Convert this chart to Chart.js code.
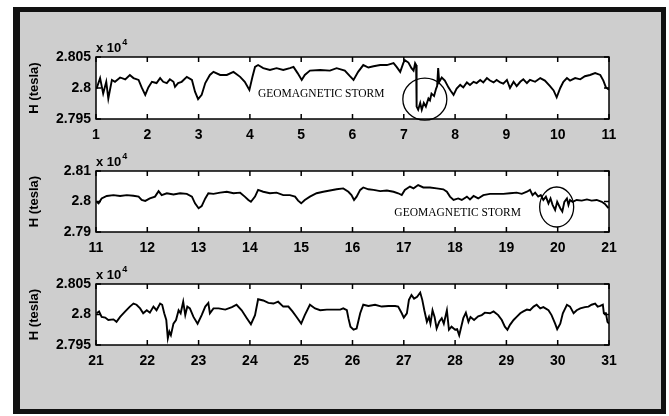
<!DOCTYPE html>
<html>
<head>
<meta charset="utf-8">
<script src="https://cdn.jsdelivr.net/npm/chart.js@4/dist/chart.umd.min.js"></script>
<style>
  html, body { margin: 0; padding: 0; background: #fff; }
  #page { position: relative; width: 669px; height: 416px; overflow: hidden; background: #fff; }
  #frame { position: absolute; left: 13px; top: 7px; width: 641px; height: 397px;
           border: 5px solid #111; border-left-width: 7px; background: #cecece; }
  canvas { position: absolute; left: 0; }
</style>
</head>
<body>
<div id="page">
  <div id="frame"></div>
  <canvas id="p1" width="669" height="120" style="top:30px"></canvas>
  <canvas id="p2" width="669" height="119" style="top:144px"></canvas>
  <canvas id="p3" width="669" height="119" style="top:257px"></canvas>
</div>
<script>
// valores (dia del mes, H en nT)
const days1 = [1.01,1.08,1.14,1.20,1.24,1.31,1.37,1.47,1.57,1.66,1.73,1.83,1.89,1.96,2.02,2.09,2.18,2.25,2.31,2.38,2.44,2.51,2.54,2.60,2.67,2.77,2.87,2.93,2.99,3.06,3.13,3.22,3.29,3.42,3.55,3.68,3.81,3.90,3.99,4.05,4.10,4.16,4.26,4.39,4.52,4.65,4.78,4.85,4.93,5.01,5.07,5.17,5.37,5.56,
  5.69,5.85,5.95,6.02,6.11,6.21,6.31,6.41,6.54,6.67,6.80,6.86,6.93,6.99,7.02,7.09,7.15,7.19,7.22,7.24,7.25,7.28,7.32,7.35,7.39,7.43,7.48,7.51,7.54,7.59,7.63,7.65,7.67,7.69,7.74,7.80,7.87,7.91,7.97,
  8.03,8.10,8.16,8.23,8.29,8.36,8.42,8.49,8.55,8.62,8.68,8.75,8.81,8.88,8.94,9.01,9.07,9.14,9.20,9.27,9.33,9.40,9.46,9.56,9.66,9.75,9.85,9.92,9.98,10.05,10.11,10.18,10.24,10.34,10.44,10.53,10.63,10.73,10.83,10.89,10.94,11.0];
const h1 = [27999,28016,27991,28010,27983,28013,28010,28017,28014,28021,28016,28013,28001,27989,28001,28010,28008,28016,28010,28008,28014,28010,28002,28008,28010,28018,28013,27994,27982,27989,28008,28021,28026,28021,28021,28026,28018,28010,27997,28018,28034,28037,28032,28029,28032,28029,28032,28034,28024,28013,28021,28028,28029,28028,
  28032,28028,28019,28013,28026,28037,28033,28035,28037,28037,28040,28034,28026,28040,28045,28041,28032,28028,28040,28037,27970,27965,27976,27965,27976,27970,27983,27980,27991,27987,27999,28003,28032,28010,28017,28012,28001,27996,27989,
  27999,28005,28001,28009,28005,28010,28008,28013,28009,28016,28012,28009,28013,28009,28007,28013,28000,28010,28003,28010,28014,28008,28013,28010,28016,28012,28003,27996,27985,28000,28010,28016,28012,28016,28014,28019,28021,28024,28021,28012,28001,27997];

const days2 = [11.01,11.05,11.11,11.21,11.34,11.47,11.60,11.73,11.83,11.89,11.96,12.05,12.15,12.22,12.28,12.38,12.51,12.64,12.77,12.87,12.93,13.00,13.06,13.13,13.19,13.29,13.42,13.55,13.68,13.81,13.90,13.97,14.02,14.10,14.16,14.26,14.39,14.52,14.65,14.78,14.88,14.94,15.00,15.07,15.17,15.30,15.43,15.56,15.69,
  15.82,15.92,15.98,16.03,16.08,16.15,16.21,16.31,16.41,16.54,16.67,16.80,16.89,16.96,17.02,17.12,17.19,17.28,17.38,17.51,17.64,17.77,17.84,17.90,17.97,18.06,18.13,18.23,18.29,18.36,18.45,18.55,18.68,18.81,18.94,19.07,19.20,19.30,19.40,19.46,19.51,19.56,19.62,19.67,19.72,19.77,19.82,19.86,19.90,19.95,19.99,20.05,20.09,20.13,20.18,20.21,20.24,20.29,20.37,20.47,20.57,20.66,20.76,20.86,20.92,20.99];
const h2 = [27999,27994,28010,28018,28021,28018,28021,28019,28016,28005,28002,28010,28016,28034,28021,28027,28023,28027,28025,28016,27994,27978,27985,28010,28027,28025,28029,28032,28027,28029,28016,28005,27999,28016,28038,28032,28027,28029,28021,28021,28016,28003,27994,28005,28016,28027,28032,28036,28040,
  28043,28032,28021,28005,28016,28038,28046,28040,28038,28034,28036,28032,28027,28021,28038,28049,28043,28054,28046,28046,28043,28040,28032,28016,28005,28010,28005,28016,28007,28018,28010,28021,28025,28025,28025,28027,28029,28025,28032,28038,28021,28029,28016,28021,28005,28016,27994,28010,27989,27972,27999,27978,27967,27999,28010,27989,28005,27999,28005,28003,28007,28003,28005,27999,27992,27978];

const days3 = [21.01,21.06,21.11,21.18,21.24,21.34,21.40,21.47,21.57,21.66,21.73,21.79,21.86,21.92,21.99,22.05,22.12,22.18,22.25,22.29,22.33,22.37,22.40,22.43,22.46,22.51,22.56,22.61,22.65,22.70,22.74,22.78,22.83,22.90,22.98,23.06,23.13,23.19,23.22,23.29,23.39,23.52,23.65,23.74,23.84,23.94,24.02,24.10,24.16,24.26,24.36,24.46,24.55,24.65,24.75,24.83,24.91,25.00,25.07,25.17,25.27,25.37,25.50,25.63,25.76,
  25.82,25.89,25.92,25.96,26.02,26.08,26.15,26.21,26.31,26.44,26.57,26.70,26.83,26.89,26.96,27.00,27.06,27.10,27.15,27.20,27.26,27.32,27.36,27.40,27.45,27.49,27.52,27.56,27.60,27.64,27.69,27.74,27.78,27.84,27.88,27.93,28.00,28.04,28.08,28.12,28.16,28.21,28.26,28.30,28.37,28.45,28.52,28.58,28.68,28.75,28.84,28.91,28.97,29.02,29.07,29.14,29.20,29.27,29.33,29.40,29.46,29.53,29.59,29.66,29.72,29.82,29.88,29.95,29.99,30.05,30.10,30.18,30.24,30.31,30.37,30.44,30.53,30.60,30.66,30.73,30.78,30.83,30.88,30.90,30.94,30.97,31.00];
const h3 = [28002,28005,27996,27995,27991,27992,27988,27996,28005,28013,28018,28016,28010,28002,28007,28003,28013,28007,28018,28016,28002,27991,27961,27972,27966,27985,27991,28007,28002,28021,27999,28013,28010,27996,27985,27999,28013,28019,28002,28010,28010,28008,28012,28016,28007,27994,27984,27999,28025,28023,28019,28018,28021,28013,28013,28005,27996,27985,27999,28016,28010,28007,28008,28008,28008,
  28010,28007,27994,27980,27975,27977,28002,28016,28014,28016,28013,28014,28014,28013,28002,27995,28002,28024,28032,28026,28029,28036,28024,28007,27988,27996,27985,28007,27996,27977,27988,27994,27985,28007,27975,27980,27975,27976,27966,27980,27994,28003,27988,27996,27991,27997,27999,28003,28002,28005,27999,27991,27980,27975,27983,27991,27996,28002,28005,28008,28007,28013,28016,28010,28012,28007,27999,27985,27976,27985,28002,28016,28013,28002,28007,28010,28012,28013,28016,28018,28013,28014,28016,28002,28002,27988,27985];

const yTicks1 = ['2.795', '2.8', '2.805'];
const yTicks2 = ['2.79', '2.8', '2.81'];
const yTicks3 = ['2.795', '2.8', '2.805'];
const nota = 'GEOMAGNETIC STORM';

const fuenteEje = { family: "'Liberation Sans', Arial, sans-serif", size: 14, weight: 'bold' };

// caja, marcas hacia adentro, "x 10^4" y anotaciones
const cajaPlugin = {
  id: 'caja',
  beforeDatasetsDraw(chart) {
    const { ctx, chartArea: a } = chart;
    ctx.save();
    ctx.fillStyle = '#fff';
    ctx.fillRect(a.left, a.top, a.width, a.height);
    ctx.restore();
  },
  afterDatasetsDraw(chart, args, opts) {
    const { ctx, chartArea: a, scales: { x, y } } = chart;
    ctx.save();
    ctx.strokeStyle = '#000';
    ctx.lineWidth = 1.5;
    ctx.strokeRect(a.left, a.top, a.width, a.height);
    ctx.beginPath();
    x.ticks.forEach(t => {
      const px = x.getPixelForValue(t.value);
      ctx.moveTo(px, a.bottom); ctx.lineTo(px, a.bottom - 5);
      ctx.moveTo(px, a.top); ctx.lineTo(px, a.top + 5);
    });
    y.ticks.forEach(t => {
      const py = y.getPixelForValue(t.value);
      ctx.moveTo(a.left, py); ctx.lineTo(a.left + 5, py);
      ctx.moveTo(a.right, py); ctx.lineTo(a.right - 5, py);
    });
    ctx.stroke();

    // x 10^4
    ctx.fillStyle = '#000';
    ctx.textBaseline = 'alphabetic';
    ctx.textAlign = 'left';
    ctx.font = "bold 13px 'Liberation Sans', Arial, sans-serif";
    ctx.fillText('x 10', a.left, a.top - 5);
    const w = ctx.measureText('x 10').width;
    ctx.font = "bold 9px 'Liberation Sans', Arial, sans-serif";
    ctx.fillText('4', a.left + w + 1, a.top - 12);

    // anotaciones
    (opts.notas || []).forEach(n => {
      ctx.font = "11.5px 'Liberation Serif', 'Times New Roman', serif";
      ctx.textAlign = 'center';
      ctx.textBaseline = 'middle';
      ctx.fillText(n.texto, x.getPixelForValue(n.tx), y.getPixelForValue(n.ty));
      ctx.lineWidth = 1.3;
      ctx.beginPath();
      ctx.ellipse(x.getPixelForValue(n.cx), y.getPixelForValue(n.cy), n.rx, n.ry, 0, 0, Math.PI * 2);
      ctx.stroke();
    });
    ctx.restore();
  }
};

function crearPanel(id, dias, valores, xmin, xmax, ymin, ymax, etiquetasY, notas) {
  new Chart(document.getElementById(id), {
    type: 'line',
    data: {
      datasets: [{
        data: dias.map((d, i) => ({ x: d, y: valores[i] })),
        borderColor: '#000',
        borderWidth: 1.9,
        pointRadius: 0,
        tension: 0,
        fill: false
      }]
    },
    options: {
      responsive: false,
      animation: false,
      layout: { padding: { left: 0, right: 60, top: 27, bottom: 0 } },
      plugins: { legend: { display: false }, tooltip: { enabled: false }, caja: { notas: notas } },
      scales: {
        x: {
          type: 'linear', min: xmin, max: xmax,
          grid: { display: false, drawTicks: false },
          border: { display: false },
          ticks: { stepSize: 1, color: '#000', font: fuenteEje, padding: 8, maxRotation: 0, autoSkip: false },
          afterFit(s) { s.height = 31; }
        },
        y: {
          min: ymin, max: ymax,
          grid: { display: false, drawTicks: false },
          border: { display: false },
          ticks: {
            stepSize: (ymax - ymin) / 2, color: '#000', font: fuenteEje, padding: 5,
            callback: (v, i) => etiquetasY[i]
          },
          title: {
            display: true, text: 'H (tesla)', color: '#000',
            font: { family: "'Liberation Sans', Arial, sans-serif", size: 13, weight: 'bold' },
            padding: { top: 27, bottom: 0 }
          },
          afterFit(s) { s.width = 96; }
        }
      }
    },
    plugins: [cajaPlugin]
  });
}

crearPanel('p1', days1, h1, 1, 11, 27950, 28050, yTicks1,
  [{ texto: nota, tx: 5.39, ty: 27990, cx: 7.41, cy: 27982, rx: 22, ry: 21 }]);
crearPanel('p2', days2, h2, 11, 21, 27900, 28100, yTicks2,
  [{ texto: nota, tx: 18.05, ty: 27962, cx: 19.98, cy: 27982, rx: 17, ry: 20 }]);
crearPanel('p3', days3, h3, 21, 31, 27950, 28050, yTicks3, []);
</script>
</body>
</html>
